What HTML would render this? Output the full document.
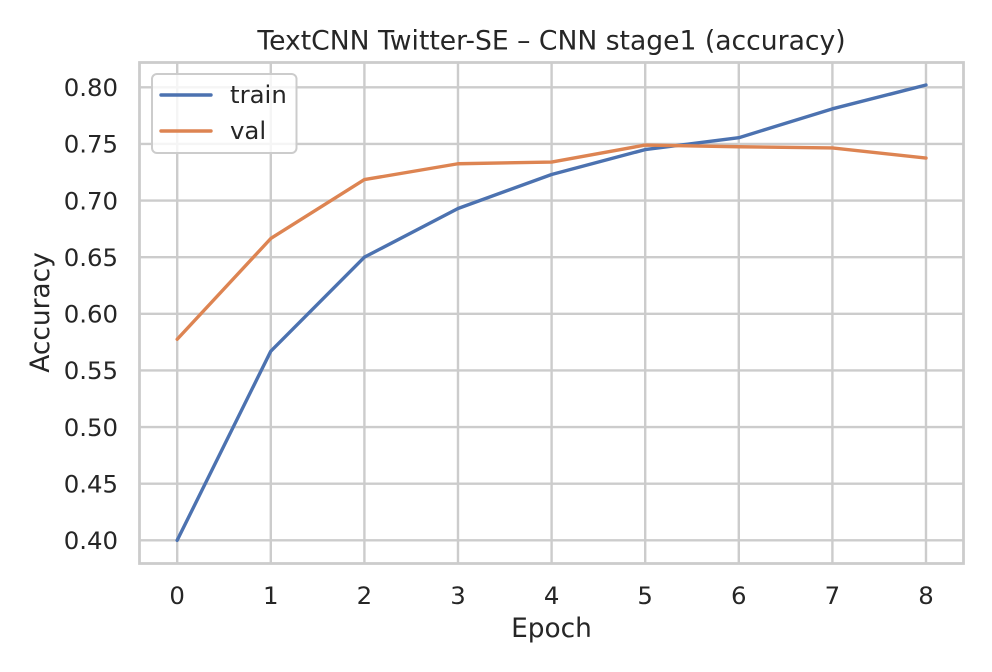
<!DOCTYPE html>
<html lang="en">
<head>
<meta charset="utf-8">
<title>TextCNN Twitter-SE – CNN stage1 (accuracy)</title>
<style>
html,body{margin:0;padding:0;background:#fff;}
svg{display:block;}
text{font-family:"DejaVu Sans",sans-serif;fill:#262626;}
</style>
</head>
<body>
<svg id="chart" xmlns="http://www.w3.org/2000/svg" width="992" height="672" viewBox="0 0 992 672"></svg>
<script>
const epochs = [0, 1, 2, 3, 4, 5, 6, 7, 8];
const trainValues = [0.400, 0.567, 0.650, 0.693, 0.723, 0.745, 0.7555, 0.781, 0.802];
const valValues = [0.5775, 0.6665, 0.7185, 0.7325, 0.734, 0.749, 0.7475, 0.7465, 0.7375];
const yTicks = [0.40, 0.45, 0.50, 0.55, 0.60, 0.65, 0.70, 0.75, 0.80];
const xTicks = [0, 1, 2, 3, 4, 5, 6, 7, 8];

const svg = document.getElementById('chart');
const NS = 'http://www.w3.org/2000/svg';
const plot = {left: 139.5, right: 963.5, top: 62.5, bottom: 563.5};
const xAxis = v => 177.2 + v * 93.6;
const yAxis = v => 540.3 - (v - 0.40) * 1132.5;

function mk(tag, attrs, text) {
  const el = document.createElementNS(NS, tag);
  for (const k in attrs) el.setAttribute(k, attrs[k]);
  if (text !== undefined) el.textContent = text;
  svg.appendChild(el);
  return el;
}

// vertical grid + x tick labels
xTicks.forEach(t => {
  const g = mk('line', {x1: xAxis(t), x2: xAxis(t), y1: plot.top, y2: plot.bottom, stroke: '#cccccc', 'stroke-width': 2.4});
  
  
  const l = mk('text', {x: xAxis(t), y: 604, 'text-anchor': 'middle', 'font-size': 24.4}, String(t));
  
  
});

// horizontal grid + y tick labels
yTicks.forEach(t => {
  const g = mk('line', {x1: plot.left, x2: plot.right, y1: yAxis(t), y2: yAxis(t), stroke: '#cccccc', 'stroke-width': 2.4});
  
  
  const l = mk('text', {x: 118, y: yAxis(t) + 8.8, 'text-anchor': 'end', 'font-size': 24.4}, t.toFixed(2));
  
  
});

function linePath(values) {
  return values.map((v, i) => xAxis(epochs[i]).toFixed(2) + ',' + yAxis(v).toFixed(2)).join(' ');
}

const trainLine = mk('polyline', {points: linePath(trainValues), fill: 'none', stroke: '#4c72b0', 'stroke-width': 3.4, 'stroke-linecap': 'round', 'stroke-linejoin': 'round'});



const valLine = mk('polyline', {points: linePath(valValues), fill: 'none', stroke: '#dd8452', 'stroke-width': 3.4, 'stroke-linecap': 'round', 'stroke-linejoin': 'round'});



// plot frame
const frame = mk('rect', {x: plot.left, y: plot.top, width: plot.right - plot.left, height: plot.bottom - plot.top, fill: 'none', stroke: '#cccccc', 'stroke-width': 2.8});



// legend
const legendBox = mk('rect', {x: 152, y: 74, width: 144.5, height: 79, rx: 5, ry: 5, fill: '#ffffff', 'fill-opacity': 0.8, stroke: '#cccccc', 'stroke-width': 2});



const trainKey = mk('line', {x1: 161, x2: 211, y1: 95, y2: 95, stroke: '#4c72b0', 'stroke-width': 3.4, 'stroke-linecap': 'round'});



const trainLabel = mk('text', {x: 230, y: 103, 'font-size': 24.4}, 'train');



const valKey = mk('line', {x1: 161, x2: 211, y1: 131, y2: 131, stroke: '#dd8452', 'stroke-width': 3.4, 'stroke-linecap': 'round'});



const valLabel = mk('text', {x: 230, y: 139, 'font-size': 24.4}, 'val');



// titles
const title = mk('text', {x: 551.5, y: 49.5, 'text-anchor': 'middle', 'font-size': 26.6}, 'TextCNN Twitter-SE – CNN stage1 (accuracy)');



const xTitle = mk('text', {x: 551.5, y: 637, 'text-anchor': 'middle', 'font-size': 26.4}, 'Epoch');



const yTitle = mk('text', {x: 0, y: 0, transform: 'translate(49,312.5) rotate(-90)', 'text-anchor': 'middle', 'font-size': 26.4}, 'Accuracy');


</script>
</body>
</html>
